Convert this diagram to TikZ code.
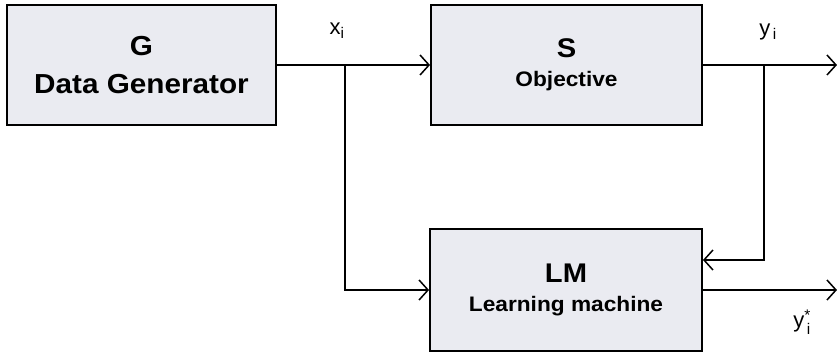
\documentclass[tikz,border=0pt]{standalone}
\usepackage{fontspec}
\setmainfont{Liberation Sans}
\usepackage{amsmath}
\usetikzlibrary{arrows.meta}

\definecolor{boxgray}{RGB}{234,235,241}
\newcommand{\wide}[1]{\scalebox{1.08}[1]{#1}}

\begin{document}
\begin{tikzpicture}[x=1pt,y=-1pt,
  block/.style={draw, line width=1.9pt, fill=boxgray, align=center, inner sep=0pt},
  wire/.style={line width=1.8pt},
  arr/.style={wire, -{Straight Barb[length=9pt,width=20pt,line width=1.5pt]}},
  lbl/.style={font=\fontsize{22}{24}\selectfont}]

\useasboundingbox (0,0) rectangle (837,352);

\node[block, minimum width=269pt, minimum height=120pt,
  font=\fontsize{27.5}{38}\selectfont\bfseries] (G) at (141.5,65)
  {\wide{G}\\\wide{Data Generator}};
\node[block, minimum width=271pt, minimum height=120pt,
  font=\fontsize{27}{29}\selectfont\bfseries] (S) at (566.5,65)
  {\wide{S}\\{\fontsize{21}{29}\selectfont\wide{Objective}}};
\node[block, minimum width=272pt, minimum height=122pt,
  font=\fontsize{27}{29}\selectfont\bfseries] (LM) at (566,290)
  {\wide{LM}\\{\fontsize{21}{29}\selectfont\wide{Learning machine}}};

\coordinate (xb) at (345,65);
\coordinate (yb) at (764,65);
\coordinate (yout) at (837,65);
\coordinate (fb) at (764,260);
\coordinate (lmout) at (837,290);

\draw[arr] (G.east) -- (S.west);
\draw[arr] (xb) |- (LM.west);
\draw[arr] (S.east) -- (yout);
\draw[arr] (yb) -- (fb) -- (fb -| LM.east);
\draw[arr] (LM.east) -- (lmout);

\node[lbl] (xi) at (337,31) {x\textsubscript{i}};
\node[lbl] (yi) at (768,32) {y\textsubscript{\,i}};
\node[lbl] (ys) at (802,322) {y$_{\text{\,i}}^{\text{*}}$};

\end{tikzpicture}
\end{document}
